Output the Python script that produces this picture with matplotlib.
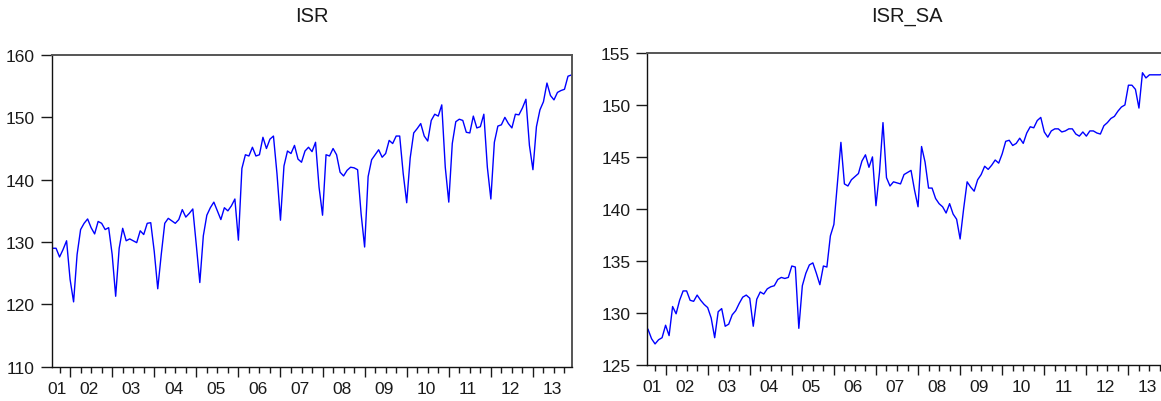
import matplotlib
matplotlib.use("Agg")
import matplotlib.pyplot as plt
from matplotlib.transforms import blended_transform_factory

plt.rcParams["font.family"] = ["Liberation Sans", "DejaVu Sans"]

# Monthly observations, August 2001 through December 2013
start_year, start_month = 2001, 8

isr = [
    129.0, 129.0, 127.6, 128.8, 130.2, 124.0, 120.4, 128.0, 132.0, 133.0,
    133.7, 132.3, 131.3, 133.3, 133.0, 132.0, 132.3, 128.0, 121.3, 129.0,
    132.2, 130.2, 130.5, 130.2, 129.9, 131.8, 131.2, 133.0, 133.1, 128.5,
    122.5, 128.0, 133.0, 133.8, 133.4, 133.0, 133.6, 135.2, 134.0, 134.6,
    135.3, 129.5, 123.5, 131.0, 134.3, 135.5, 136.4, 135.0, 133.6, 135.5,
    135.0, 135.8, 136.9, 130.3, 141.8, 144.0, 143.8, 145.2, 143.8, 144.0,
    146.8, 145.0, 146.5, 147.0, 141.0, 133.5, 142.2, 144.6, 144.2, 145.5,
    143.3, 142.8, 144.6, 145.2, 144.5, 146.0, 138.8, 134.3, 144.0, 143.8,
    145.0, 144.0, 141.2, 140.6, 141.5, 142.0, 141.9, 141.6, 134.5, 129.2,
    140.5, 143.2, 144.0, 144.8, 143.6, 144.2, 146.3, 145.8, 147.0, 147.0,
    141.0, 136.3, 143.5, 147.5, 148.2, 149.0, 147.0, 146.2, 149.5, 150.5,
    150.2, 152.0, 142.0, 136.4, 145.8, 149.3, 149.7, 149.5, 147.6, 147.5,
    150.2, 148.3, 148.5, 150.5, 142.0, 136.9, 146.0, 148.6, 148.8, 150.0,
    149.0, 148.3, 150.5, 150.4, 151.5, 152.9, 145.5, 141.6, 148.5, 151.2,
    152.5, 155.5, 153.5, 152.8, 154.0, 154.3, 154.5, 156.6, 156.8,
]

isr_sa = [
    128.4, 127.5, 127.0, 127.4, 127.6, 128.8, 127.8, 130.6, 129.9, 131.2,
    132.1, 132.1, 131.2, 131.1, 131.7, 131.2, 130.8, 130.5, 129.5, 127.6,
    130.1, 130.4, 128.7, 128.9, 129.8, 130.2, 130.9, 131.5, 131.7, 131.4,
    128.7, 131.3, 132.0, 131.8, 132.3, 132.5, 132.6, 133.2, 133.4, 133.3,
    133.4, 134.5, 134.4, 128.5, 132.6, 133.8, 134.6, 134.8, 133.8, 132.7,
    134.5, 134.4, 137.4, 138.5, 142.5, 146.4, 142.4, 142.2, 142.8, 143.1,
    143.4, 144.6, 145.2, 144.0, 145.0, 140.3, 143.5, 148.3, 143.0, 142.2,
    142.6, 142.5, 142.4, 143.3, 143.5, 143.7, 141.8, 140.2, 146.0, 144.5,
    142.0, 142.0, 141.0, 140.5, 140.2, 139.6, 140.5, 139.5, 139.0, 137.1,
    140.0, 142.6, 142.1, 141.7, 142.8, 143.3, 144.1, 143.8, 144.2, 144.7,
    144.4, 145.3, 146.5, 146.6, 146.1, 146.3, 146.8, 146.3, 147.3, 147.9,
    147.8, 148.5, 148.8, 147.4, 146.9, 147.5, 147.7, 147.7, 147.4, 147.5,
    147.7, 147.7, 147.2, 147.0, 147.4, 147.0, 147.5, 147.5, 147.3, 147.2,
    148.0, 148.3, 148.7, 148.9, 149.4, 149.8, 150.0, 151.9, 151.9, 151.5,
    149.7, 153.1, 152.6, 152.9, 152.9, 152.9, 152.9, 153.0, 153.0,
]

titles = ["ISR", "ISR_SA"]
y_ranges = [(110, 160, 10), (125, 155, 5)]
year_labels = ["01", "02", "03", "04", "05", "06", "07",
               "08", "09", "10", "11", "12", "13"]

W, H = 1161, 402
fig = plt.figure(figsize=(W / 100, H / 100), dpi=100)
fig.patch.set_facecolor("white")

# axes boxes in pixels: left, right, top, bottom
boxes = [(51.5, 571.5, 56.0, 367.7), (647.0, 1167.0, 54.0, 365.7)]

n = len(isr)
offset = 12 - start_month + 1          # index of first January
year_starts = list(range(offset, n, 12))
quarter_starts = [i for i in range(n) if (i - offset) % 3 == 0 and i not in year_starts]
label_pos = [1.25] + [ys + 5.5 for ys in year_starts]

text_color = "#1a1a1a"

for series, title, (ymin, ymax, ystep), (l, r, t, b) in zip(
        [isr, isr_sa], titles, y_ranges, boxes):
    ax = fig.add_axes([l / W, (H - b) / H, (r - l) / W, (b - t) / H])
    ax.plot(range(n), series, color="#0000ff", lw=1.0)
    ax.set_xlim(-0.3, n - 1)
    ax.set_ylim(ymin, ymax)
    ax.set_yticks(range(ymin, ymax + 1, ystep))
    ax.tick_params(axis="y", direction="out", length=8, width=1.0,
                   labelsize=12.5, pad=4, colors=text_color)
    ax.set_xticks(year_starts)
    ax.set_xticklabels([])
    ax.set_xticks(quarter_starts, minor=True)
    ax.tick_params(axis="x", which="major", direction="out", length=7, width=1.0,
                   color=text_color)
    ax.tick_params(axis="x", which="minor", direction="out", length=4, width=1.0,
                   color=text_color)
    trans = blended_transform_factory(ax.transData, ax.transAxes)
    for pos, lab in zip(label_pos, year_labels):
        ax.text(pos, -0.045, lab, transform=trans, ha="center", va="top",
                fontsize=12.5, color=text_color)
    for side in ("left", "bottom"):
        ax.spines[side].set_color("#111111")
        ax.spines[side].set_linewidth(1.0)
    for side in ("top", "right"):
        ax.spines[side].set_color("#555555")
        ax.spines[side].set_linewidth(1.4)
    fig.text(((l + r) / 2) / W, 1 - 17 / H, title, ha="center", va="center",
             fontsize=14.5, color=text_color)

fig.savefig("out.png", dpi=100)
